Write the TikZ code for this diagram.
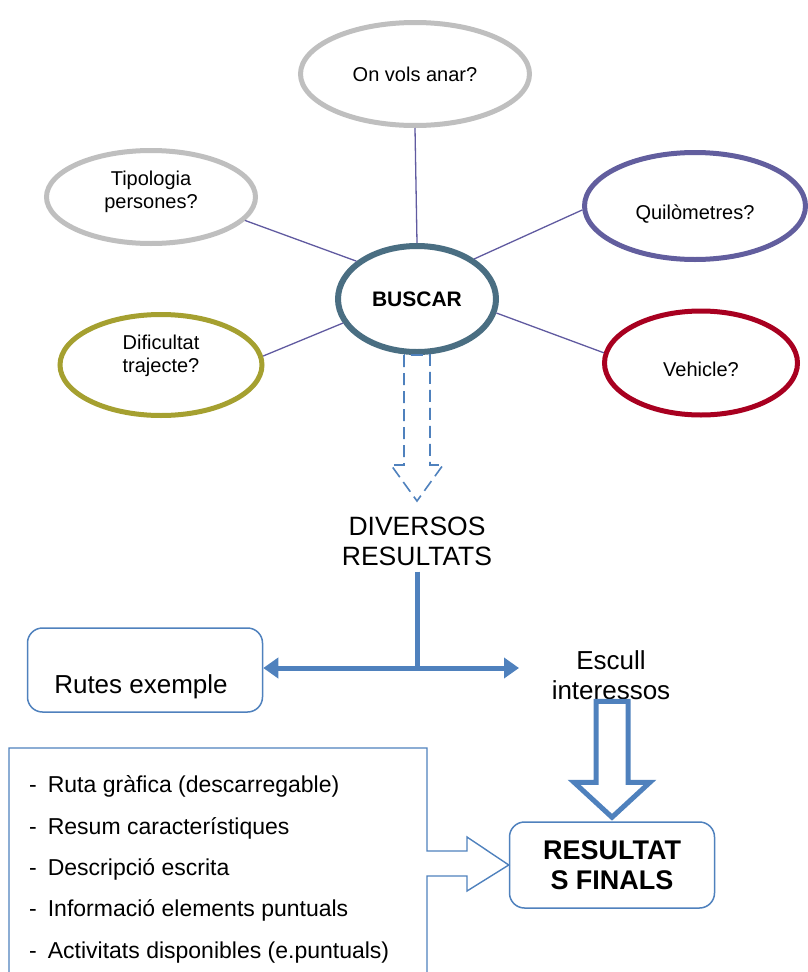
\documentclass[tikz,border=0pt]{standalone}
\usepackage{fontspec}
\setmainfont{Liberation Sans}
\usepackage{tikz}
\usetikzlibrary{shapes.geometric, arrows.meta, calc}
\definecolor{mygray}{RGB}{191,191,191}
\definecolor{mypurple}{RGB}{98,94,158}
\definecolor{myslate}{RGB}{74,110,130}
\definecolor{myolive}{RGB}{165,160,48}
\definecolor{myred}{RGB}{168,0,32}
\definecolor{myblue}{RGB}{79,129,189}
\definecolor{myspoke}{RGB}{96,90,160}
\tikzset{
  bubble/.style={ellipse, fill=white, line width=5pt,
    align=center, inner sep=0pt, font=\fontsize{20}{23}\selectfont},
  hubnode/.style={ellipse, draw=myslate, fill=white, line width=6pt,
    inner sep=0pt, font=\fontsize{21}{23}\selectfont\bfseries},
  roundbox/.style={rectangle, draw=myblue, fill=white, line width=1.5pt,
    rounded corners=15pt, align=center, inner sep=0pt},
  bigtext/.style={align=center, inner sep=0pt, font=\fontsize{26.5}{30}\selectfont},
  listitem/.style={anchor=base west, inner sep=0pt, font=\fontsize{23}{27}\selectfont},
  spoke/.style={line width=1.3pt, color=myspoke},
  dashbox/.style={line width=1.6pt, color=myblue, dash pattern=on 12pt off 6pt},
  barline/.style={line width=5pt, color=myblue},
  bararrow/.style={line width=5pt, color=myblue, -{Triangle[length=15pt,width=20pt]}},
  hollowarrow/.style={line width=5pt, color=myblue},
  listframe/.style={line width=1.4pt, color=myblue}
}
\begin{document}
\begin{tikzpicture}[x=1pt, y=-1pt]
  \useasboundingbox (0,0) rectangle (808,972);
  % Question bubbles
  \node[bubble, draw=mygray, minimum width=229pt, minimum height=103pt] (onvols) at (415,74) {On vols anar?};
  \node[bubble, draw=mygray, minimum width=209pt, minimum height=93pt, text depth=15pt] (tipologia) at (151,197) {Tipologia\\persones?};
  \node[bubble, draw=mypurple, minimum width=221pt, minimum height=107pt, text height=30pt] (quilometres) at (695,206) {Quilòmetres?};
  \node[bubble, draw=myolive, minimum width=202pt, minimum height=101pt, text depth=23pt] (dificultat) at (161,365) {Dificultat\\trajecte?};
  \node[bubble, draw=myred, minimum width=193pt, minimum height=104pt, text height=27pt] (vehicle) at (701,363) {Vehicle?};
  % Central node
  \node[hubnode, minimum width=158pt, minimum height=106pt] (buscar) at (417,299) {BUSCAR};
  % Spokes
  \draw[spoke] (buscar.north) -- (onvols.south);
  \draw[spoke] (buscar.148) -- (tipologia.-14);
  \draw[spoke] (buscar.35) -- (quilometres.182);
  \draw[spoke] (buscar.198) -- (dificultat.5);
  \draw[spoke] (buscar.-10) -- (vehicle.174);
  % Dashed block arrow
  \draw[dashbox] ([xshift=-13pt]buscar.south) -- ++(0,110) -- ++(-13,0) -- ++(26,36)
    -- ++(26,-36) -- ++(-13,0) -- ++(0,-110) -- cycle;
  \node[bigtext] (diversos) at (417,541) {DIVERSOS\\RESULTATS};
  % Split
  \node[roundbox, minimum width=235pt, text height=65pt, text depth=19pt,
    font=\fontsize{26}{30}\selectfont] (rutes) at (145,670) {\hspace*{-8pt}Rutes exemple};
  \node[bigtext, font=\fontsize{26}{30}\selectfont] (escull) at (611,675) {Escull\\interessos};
  \coordinate (junc) at (417,668);
  \coordinate (esctip) at (519,668);
  \draw[barline] ([yshift=-6pt]diversos.south) -- (junc);
  \draw[bararrow] (junc) -- (rutes.east |- junc);
  \draw[bararrow] (junc) -- (esctip);
  % Final result
  \node[roundbox, minimum width=205pt, minimum height=86pt,
    font=\fontsize{27}{30}\selectfont\bfseries] (resultats) at (612,865) {RESULTAT\\S FINALS};
  \draw[hollowarrow] ([yshift=4pt]resultats.north) -- ++(-38,-35) -- ++(22,0) -- ++(0,-81)
    -- ++(32,0) -- ++(0,81) -- ++(22,0) -- cycle;
  % List callout
  \draw[listframe] (9,975) -- (9,748) -- (427,748) -- (427,851) -- (467,851) -- (467,837)
    -- (resultats.west) -- (467,891) -- (467,876) -- (427,876) -- (427,975);
  \node[listitem] (item1) at (29,792) {-\hspace{11pt}Ruta gràfica (descarregable)};
  \node[listitem] (item2) at (29,834) {-\hspace{11pt}Resum característiques};
  \node[listitem] (item3) at (29,875) {-\hspace{11pt}Descripció escrita};
  \node[listitem] (item4) at (29,916) {-\hspace{11pt}Informació elements puntuals};
  \node[listitem] (item5) at (29,958) {-\hspace{11pt}Activitats disponibles (e.puntuals)};
\end{tikzpicture}
\end{document}
